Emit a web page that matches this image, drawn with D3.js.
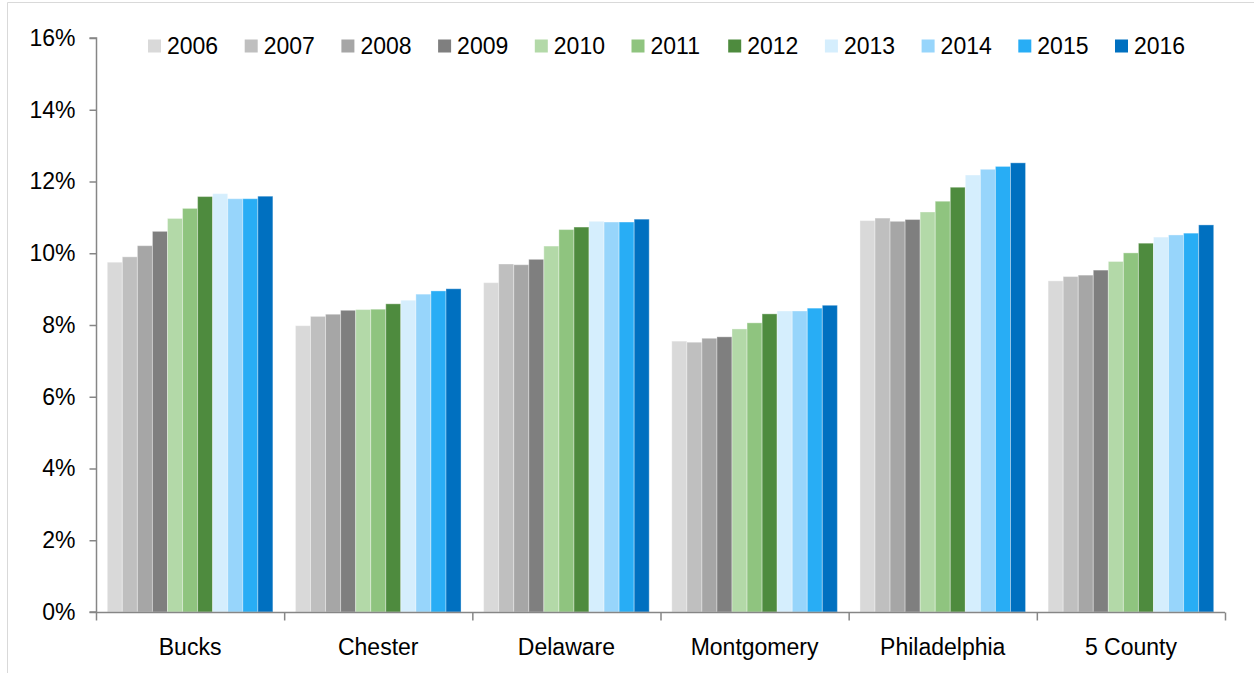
<!DOCTYPE html>
<html>
<head>
<meta charset="utf-8">
<script src="https://cdn.jsdelivr.net/npm/d3@7/dist/d3.min.js"></script>
<style>
  html, body { margin: 0; padding: 0; background: #fff; }
  svg { display: block; }
  text { font-family: "Liberation Sans Narrow", "Arial Narrow", "Liberation Sans", Arial, sans-serif; fill: #000; }
</style>
</head>
<body>
<svg id="chart" width="1254" height="675"></svg>
<script>
// Counties shown along the x axis
const counties = ["Bucks", "Chester", "Delaware", "Montgomery", "Philadelphia", "5 County"];

// Years, one bar per year inside each county group
const years = ["2006", "2007", "2008", "2009", "2010", "2011", "2012", "2013", "2014", "2015", "2016"];

// Share (%) per county, ordered 2006..2016
const bucks        = [9.75, 9.90, 10.21, 10.61, 10.97, 11.25, 11.58, 11.66, 11.52, 11.52, 11.59];
const chester      = [7.98, 8.24, 8.30, 8.41, 8.43, 8.44, 8.59, 8.69, 8.86, 8.95, 9.01];
const delaware     = [9.18, 9.70, 9.68, 9.83, 10.20, 10.66, 10.73, 10.89, 10.87, 10.87, 10.95];
const montgomery   = [7.55, 7.52, 7.63, 7.67, 7.89, 8.06, 8.31, 8.39, 8.39, 8.47, 8.55];
const philadelphia = [10.91, 10.98, 10.89, 10.94, 11.15, 11.45, 11.84, 12.18, 12.34, 12.42, 12.52];
const fiveCounty   = [9.23, 9.35, 9.39, 9.53, 9.77, 10.01, 10.28, 10.45, 10.51, 10.56, 10.79];

// Y axis ticks
const yTicks = [0, 2, 4, 6, 8, 10, 12, 14, 16];

// Year colours: greys, greens, blues
const yearColors = ["#d9d9d9", "#bfbfbf", "#a6a6a6", "#7f7f7f",
                    "#b3d9a8", "#8fc47f", "#4e8b3e",
                    "#d5eefd", "#97d5fb", "#28adf5", "#0070c0"];

const seriesByCounty = [bucks, chester, delaware, montgomery, philadelphia, fiveCounty];

const svg = d3.select("#chart");
const margin = { left: 96, right: 29, top: 38, bottom: 63 };
const W = 1254, H = 675;

// Light frame on the top and left edges
svg.append("line").attr("x1", 7.5).attr("x2", W).attr("y1", 2.5).attr("y2", 2.5)
  .attr("stroke", "#d9d9d9").attr("stroke-width", 1);
svg.append("line").attr("x1", 7.5).attr("x2", 7.5).attr("y1", 2.5).attr("y2", 673)
  .attr("stroke", "#d9d9d9").attr("stroke-width", 1);

const x0 = d3.scaleBand().domain(counties)
  .range([margin.left, W - margin.right]).paddingInner(0).paddingOuter(0);
const x1 = d3.scaleBand().domain(years)
  .range([0, x0.bandwidth()]).paddingInner(0).paddingOuter(0.75);
const y = d3.scaleLinear().domain([0, 16]).range([H - margin.bottom, margin.top]);

// Bars
const groups = svg.append("g").selectAll("g")
  .data(counties.map((c, i) => ({ county: c, values: seriesByCounty[i] })))
  .join("g")
  .attr("transform", d => `translate(${x0(d.county)},0)`);

groups.selectAll("rect")
  .data(d => d.values.map((v, j) => ({ year: years[j], value: v, color: yearColors[j] })))
  .join("rect")
  .attr("x", d => x1(d.year))
  .attr("y", d => y(d.value))
  .attr("width", x1.bandwidth())
  .attr("height", d => y(0) - y(d.value))
  .attr("fill", d => d.color)
  .attr("stroke", "rgba(255,255,255,0.35)")
  .attr("stroke-width", 1);

// Y axis
const yAxis = svg.append("g")
  .attr("transform", `translate(${margin.left + 0.5},0)`)
  .call(d3.axisLeft(y).tickValues(yTicks).tickFormat(d => d + "%").tickSize(7).tickPadding(14));
yAxis.selectAll("path, line").attr("stroke", "#868686").attr("stroke-width", 1.5);
yAxis.select(".domain").attr("d", `M-7,${y(16)}H0V${y(0)}H-7`);
yAxis.selectAll("text").style("font-size", "23px").attr("fill", "#000")
  .style("font-family", "'Liberation Sans Narrow', 'Arial Narrow', sans-serif");

// X axis with ticks at category boundaries
const xAxisG = svg.append("g").attr("transform", `translate(0,${y(0) + 0.5})`);
xAxisG.append("line")
  .attr("x1", margin.left).attr("x2", W - margin.right)
  .attr("stroke", "#868686").attr("stroke-width", 1.5);
const boundaries = counties.map(c => x0(c)).concat([x0(counties[counties.length - 1]) + x0.bandwidth()]);
xAxisG.selectAll("line.tick").data(boundaries).join("line")
  .attr("class", "tick")
  .attr("x1", d => d + 0.5).attr("x2", d => d + 0.5)
  .attr("y1", 0).attr("y2", 8)
  .attr("stroke", "#868686").attr("stroke-width", 1.5);
xAxisG.selectAll("text").data(counties).join("text")
  .attr("x", d => x0(d) + x0.bandwidth() / 2)
  .attr("y", 42)
  .attr("text-anchor", "middle")
  .style("font-size", "23px")
  .text(d => d);

// Legend
const legend = svg.append("g").attr("transform", "translate(148,46)");
const items = legend.selectAll("g").data(years).join("g")
  .attr("transform", (d, i) => `translate(${i * 96.7},0)`);
items.append("rect")
  .attr("x", 0).attr("y", -6.5).attr("width", 13).attr("height", 13)
  .attr("fill", (d, i) => yearColors[i]);
items.append("text")
  .attr("x", 19).attr("y", 0).attr("dy", "0.36em")
  .style("font-size", "23px")
  .text(d => d);
</script>
</body>
</html>
